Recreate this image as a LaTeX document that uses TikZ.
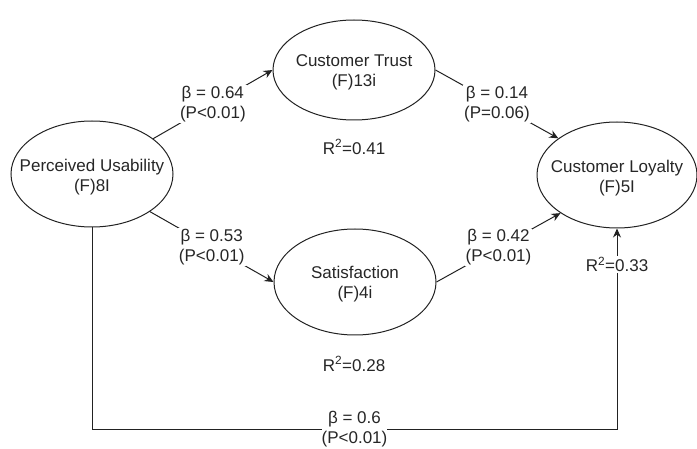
\documentclass[tikz,border=0pt]{standalone}
\usepackage{fontspec}
\setmainfont{Liberation Sans}
\usetikzlibrary{positioning,shapes.geometric,arrows.meta}
\definecolor{txtgray}{HTML}{262626}
\definecolor{linegray}{HTML}{222222}

\begin{document}
\begin{tikzpicture}[x=1pt, y=-1pt,
    ellipsenode/.style={ellipse, draw=linegray, line width=1pt, minimum width=162pt, minimum height=106pt, inner sep=0pt},
    textnode/.style={align=center, text=txtgray, font=\fontsize{17}{20}\selectfont},
    labelnode/.style={textnode, fill=white, inner sep=1pt},
    arrowline/.style={draw=linegray, line width=1pt, -{Stealth[length=9pt, width=8pt]}}]

        \useasboundingbox (0,0) rectangle (697,449);

        \node[ellipsenode, label={[textnode, yshift=-3pt]center:Perceived Usability\\(F)8I}] (1) at (92,174) {};
        \node[ellipsenode, minimum height=100pt, label={[textnode, yshift=-2pt]center:Customer Trust\\(F)13i}] (2) at (354,70) {};
        \node[ellipsenode, label={[textnode, yshift=-2pt]center:Satisfaction\\(F)4i}] (3) at (355,282) {};
        \node[ellipsenode, minimum width=160pt, label={[textnode, yshift=-3pt]center:Customer Loyalty\\(F)5I}] (4) at (617,175) {};

        \node[textnode] (r2) at (354,147) {R\textsuperscript{2}=0.41};
        \node[textnode] (r3) at (354,364) {R\textsuperscript{2}=0.28};

        \draw[arrowline] (1.30) -- node[labelnode] (b12) {β = 0.64\\(P<0.01)} (2.west);
        \draw[arrowline] (1.-33) -- node[labelnode] (b13) {β = 0.53\\(P<0.01)} (3.west);
        \draw[arrowline] (2.east) -- node[labelnode] (b24) {β = 0.14\\(P=0.06)} (4.148);
        \draw[arrowline] (3.east) -- node[labelnode] (b34) {β = 0.42\\(P<0.01)} (4.214);
        \draw[arrowline] (1.south) -- ++(0,202)
            -| node[labelnode, pos=0.25, inner sep=0pt] (b14) {β = 0.6\\(P<0.01)}
               node[labelnode, pos=0.91] (r4) {R\textsuperscript{2}=0.33} (4.south);

\end{tikzpicture}
\end{document}
